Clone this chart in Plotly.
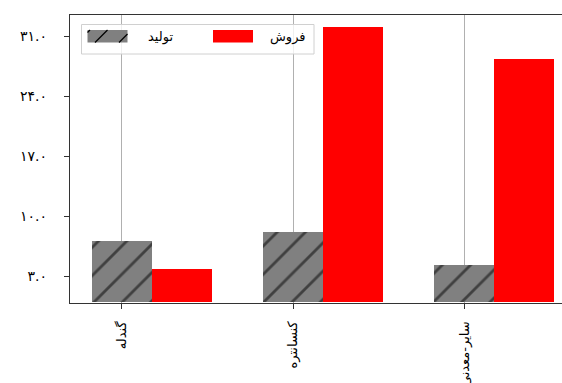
import plotly.graph_objects as go

# ---- data ----
categories = ["گندله", "کنسانتره", "سایر-معدنی"]
production = [7.2, 8.25, 4.3]
sales = [3.85, 32.05, 28.4]
legend_labels = ["تولید", "فروش"]
y_tickvals = [3, 10, 17, 24, 31]
y_ticktext = ["۳.۰", "۱۰.۰", "۱۷.۰", "۲۴.۰", "۳۱.۰"]

W, H = 562, 383
L, T = 70, 15
PLOT_BOTTOM = 303
B = H - PLOT_BOTTOM
bar_w = 0.35
x_idx = list(range(len(categories)))

fig = go.Figure()
fig.add_trace(go.Bar(
    x=x_idx, y=production, width=bar_w, name=legend_labels[0],
    marker=dict(color="#808080", line=dict(width=0),
                pattern=dict(shape="/", fgcolor="black", bgcolor="#808080",
                             size=20, solidity=0.14, fillmode="overlay")),
    showlegend=False,
))
fig.add_trace(go.Bar(
    x=[i + bar_w for i in x_idx], y=sales, width=bar_w, name=legend_labels[1],
    marker=dict(color="#ff0000", line=dict(width=0)),
    showlegend=False,
))

# ---- custom legend (matplotlib-like) in paper coords; screen pixel helpers ----
pw, ph = W - L, PLOT_BOTTOM - T
def px(x):
    return (x - L) / pw
def py(y):
    return (PLOT_BOTTOM - y) / ph

shapes = []
shapes.append(dict(type="rect", xref="paper", yref="paper",
                   x0=px(81.5), x1=px(314), y0=py(54), y1=py(24.5),
                   line=dict(color="#d0d0d0", width=1), fillcolor="rgba(255,255,255,0.8)",
                   layer="above"))
# gray hatched patch
shapes.append(dict(type="rect", xref="paper", yref="paper",
                   x0=px(87.5), x1=px(127.5), y0=py(42.5), y1=py(30),
                   line=dict(width=0), fillcolor="#808080", layer="above"))
for (xa, ya, xb, yb) in [(87.5, 32.5, 90, 30), (95, 42.5, 107.5, 30), (119, 42.5, 127.5, 34)]:
    shapes.append(dict(type="line", xref="paper", yref="paper",
                       x0=px(xa), y0=py(ya), x1=px(xb), y1=py(yb),
                       line=dict(color="black", width=1.2), layer="above"))
# red patch
shapes.append(dict(type="rect", xref="paper", yref="paper",
                   x0=px(213), x1=px(253), y0=py(42.5), y1=py(30),
                   line=dict(width=0), fillcolor="#ff0000", layer="above"))

annotations = [
    dict(xref="paper", yref="paper", x=px(160), y=py(37), text=legend_labels[0],
         showarrow=False, xanchor="center", yanchor="middle",
         font=dict(size=13, color="black", family="DejaVu Sans")),
    dict(xref="paper", yref="paper", x=px(288), y=py(37), text=legend_labels[1],
         showarrow=False, xanchor="center", yanchor="middle",
         font=dict(size=13, color="black", family="DejaVu Sans")),
]

fig.update_layout(
    width=W, height=H,
    margin=dict(l=L, r=0, t=T, b=B, pad=0, autoexpand=False),
    paper_bgcolor="white", plot_bgcolor="white",
    barmode="overlay", bargap=0,
    font=dict(family="DejaVu Sans", color="black"),
    shapes=shapes, annotations=annotations,
    showlegend=False,
)
fig.update_xaxes(
    automargin=False,
    range=[-0.302, 2.570], tickvals=x_idx, ticktext=categories,
    tickangle=-90, ticks="outside", ticklen=5, tickcolor="#333",
    ticklabelstandoff=7,
    showline=True, linecolor="#333", linewidth=1.3, mirror=True,
    showgrid=True, gridcolor="#b0b0b0", gridwidth=1,
    zeroline=False, tickfont=dict(size=13, color="black"),
)
fig.update_yaxes(
    automargin=False,
    range=[-0.08, 33.5], tickvals=y_tickvals, ticktext=y_ticktext,
    ticks="outside", ticklen=5, tickcolor="#333",
    ticklabelstandoff=14,
    showline=True, linecolor="#333", linewidth=1.3, mirror=False,
    showgrid=False, zeroline=False, tickfont=dict(size=14, color="black"),
)

fig.write_html(
    "out.html",
    config={"displayModeBar": False},
    post_script="document.body.style.margin='0';document.documentElement.style.overflow='hidden';document.body.style.overflow='hidden';",
)
